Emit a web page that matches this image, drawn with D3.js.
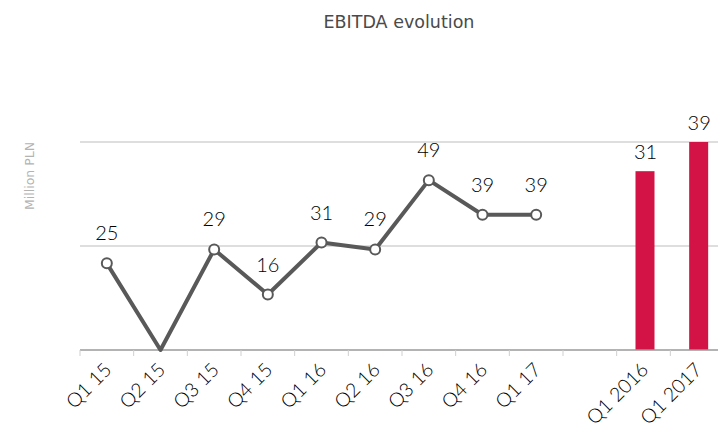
<!DOCTYPE html>
<html>
<head>
<meta charset="utf-8">
<script src="https://cdn.jsdelivr.net/npm/d3@7"></script>
<style>
  body { margin: 0; background: #fff; }
  svg text { font-family: Lato, "Open Sans", sans-serif; font-weight: 300; }
</style>
</head>
<body>
<div id="chart"></div>
<script>
// quarterly line
var quarters = ["Q1 15", "Q2 15", "Q3 15", "Q4 15", "Q1 16", "Q2 16", "Q3 16", "Q4 16", "Q1 17"];
var quarterValues = [25, 0, 29, 16, 31, 29, 49, 39, 39];
// year-on-year bars
var barCats = ["Q1 2016", "Q1 2017"];
var barValues = [31, 39];
var gridTicks = [0, 30, 60];

var width = 718, height = 434;
var svg = d3.select("#chart").append("svg")
    .attr("width", width)
    .attr("height", height);

var categories = quarters.concat([" "], barCats);

var x = d3.scaleBand().domain(categories).range([80, 724]);
var y = d3.scaleLinear().domain([0, 60]).range([350, 142]);
// the bars sit on their own scale in the original
var yBar = d3.scaleLinear().domain([-18, 39]).range([350, 142]);

svg.append("text")
    .attr("x", 399).attr("y", 28)
    .attr("text-anchor", "middle")
    .style("font-family", "'DejaVu Sans', Verdana, sans-serif")
    .style("font-weight", "normal")
    .style("font-size", "17.5px")
    .attr("fill", "#4a4a4a")
    .text("EBITDA evolution");

svg.append("text")
    .attr("transform", "translate(34,176) rotate(-90)")
    .attr("text-anchor", "middle")
    .style("font-family", "'DejaVu Sans', Verdana, sans-serif")
    .style("font-weight", "normal")
    .style("font-size", "12.5px")
    .attr("fill", "#b3b3b3")
    .text("Million PLN");

// gridlines
svg.append("g").selectAll("line")
    .data(gridTicks.filter(d => d > 0))
    .join("line")
    .attr("x1", 80).attr("x2", width)
    .attr("y1", d => y(d)).attr("y2", d => y(d))
    .attr("stroke", "#bdbdbd").attr("stroke-width", 1);

// bars
svg.append("g").selectAll("rect")
    .data(barCats)
    .join("rect")
    .attr("x", d => x(d) + x.bandwidth() / 2 - 8)
    .attr("width", 19)
    .attr("y", (d, i) => yBar(barValues[i]))
    .attr("height", (d, i) => yBar.range()[0] - yBar(barValues[i]))
    .attr("fill", "#d31245");

svg.append("g").selectAll("text")
    .data(barCats)
    .join("text")
    .attr("x", d => x(d) + x.bandwidth() / 2 + 2)
    .attr("y", (d, i) => yBar(barValues[i]) - 12)
    .attr("text-anchor", "middle")
    .style("font-size", "20px")
    .attr("fill", "#000")
    .text((d, i) => barValues[i]);

// x axis
var xAxis = svg.append("g")
    .attr("transform", "translate(0," + y(0) + ")");
xAxis.append("line")
    .attr("x1", 80).attr("x2", width)
    .attr("stroke", "#9a9a9a").attr("stroke-width", 1.5);
xAxis.selectAll(".tick")
    .data(categories)
    .join("line")
    .attr("x1", d => x(d)).attr("x2", d => x(d))
    .attr("y1", 0).attr("y2", 6)
    .attr("stroke", "#cfcfcf").attr("stroke-width", 1);
xAxis.selectAll(".lbl")
    .data(categories)
    .join("text")
    .attr("text-anchor", "end")
    .attr("transform", d => "translate(" + (x(d) + x.bandwidth() / 2 + 6) + ",21) rotate(-45)")
    .style("font-size", "19.5px")
    .attr("fill", "#000")
    .text(d => d.trim());

// line
var pts = quarters.map((q, i) => ({ q: q, v: quarterValues[i] }));
var line = d3.line()
    .x(d => x(d.q) + x.bandwidth() / 2)
    .y(d => y(d.v));

svg.append("path")
    .datum(pts)
    .attr("d", line)
    .attr("fill", "none")
    .attr("stroke", "#595959")
    .attr("stroke-width", 4)
    .attr("stroke-linejoin", "round");

var shown = pts.filter(d => d.v > 0);

svg.append("g").selectAll("circle")
    .data(shown)
    .join("circle")
    .attr("cx", d => x(d.q) + x.bandwidth() / 2)
    .attr("cy", d => y(d.v))
    .attr("r", 5)
    .attr("fill", "#fff")
    .attr("stroke", "#595959")
    .attr("stroke-width", 2);

svg.append("g").selectAll("text")
    .data(shown)
    .join("text")
    .attr("x", d => x(d.q) + x.bandwidth() / 2)
    .attr("y", d => y(d.v) - 23)
    .attr("text-anchor", "middle")
    .style("font-size", "20px")
    .attr("fill", "#000")
    .text(d => d.v);
</script>
</body>
</html>
